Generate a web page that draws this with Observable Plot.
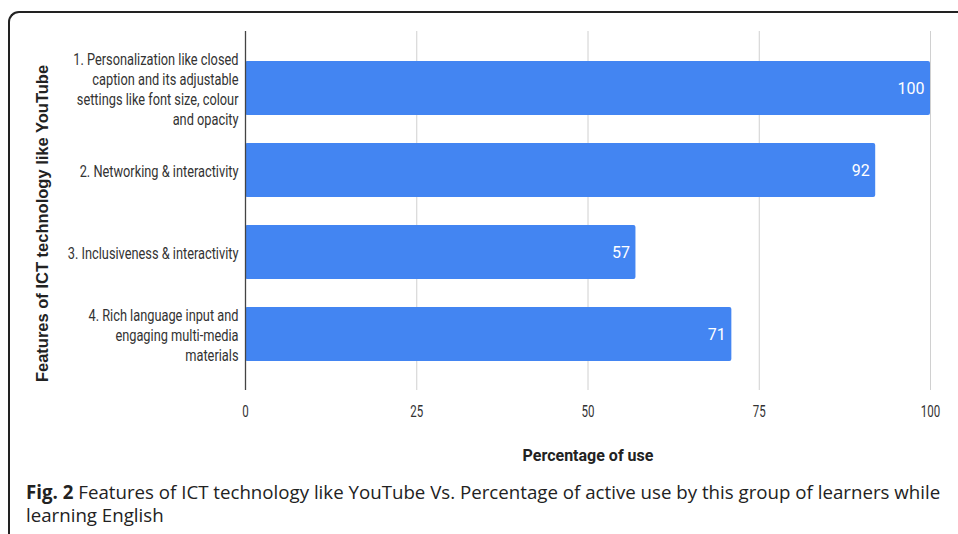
<!DOCTYPE html>
<html>
<head>
<meta charset="utf-8">
<script src="https://cdn.jsdelivr.net/npm/d3@7"></script>
<script src="https://cdn.jsdelivr.net/npm/@observablehq/plot@0.6"></script>
<style>
  html, body { margin: 0; padding: 0; background: #fff; width: 958px; height: 534px; overflow: hidden; }
  #frame { position: absolute; left: 8px; top: 11px; width: 980px; height: 560px;
           border-left: 2px solid #222; border-top: 2px solid #222; border-top-left-radius: 11px; box-sizing: border-box; }
  #chart { position: absolute; left: 0; top: 0; }
  #caption { position: absolute; left: 26px; top: 480px; width: 925px; white-space: nowrap;
             font-family: "Open Sans", sans-serif; font-size: 18.7px; line-height: 23px; color: #222; }
  #caption b { font-weight: 700; }
</style>
</head>
<body>
<div id="frame"></div>
<div id="chart"></div>
<div id="caption"><div><b>Fig. 2</b><span> Features of ICT technology like YouTube Vs. Percentage of active use by this group of learners while</span></div><div><span>learning English</span></div></div>
<script>
const categories = [
  "1. Personalization like closed caption and its adjustable settings like font size, colour and opacity",
  "2. Networking & interactivity",
  "3. Inclusiveness & interactivity",
  "4. Rich language input and engaging multi-media materials"
];
const tickLabels = [
  "1. Personalization like closed\ncaption and its adjustable\nsettings like font size, colour\nand opacity",
  "2. Networking & interactivity",
  "3. Inclusiveness & interactivity",
  "4. Rich language input and\nengaging multi-media\nmaterials"
];
const values = [100, 92, 57, 71];
const xTicks = [0, 25, 50, 75, 100];
const xTitle = "Percentage of use";
const yTitle = "Features of ICT technology like YouTube";

const data = categories.map((c, i) => ({category: c, value: values[i]}));
const labelOf = new Map(categories.map((c, i) => [c, tickLabels[i]]));

const narrow = "Roboto, sans-serif";

const chart = Plot.plot({
  width: 958,
  height: 470,
  marginLeft: 245,
  marginRight: 28,
  marginTop: 31,
  marginBottom: 80,
  style: {background: "transparent", fontFamily: narrow, color: "#333"},
  x: {domain: [0, 100]},
  y: {domain: categories, padding: 0.345},
  marks: [
    Plot.ruleX(xTicks.filter(d => d !== 0), {stroke: "#d0d0d0", strokeWidth: 1}),
    Plot.barX(data, {y: "category", x: "value", fill: "#4385f2", rx: 2}),
    Plot.ruleX([0], {stroke: "#444", strokeWidth: 1.3}),
    Plot.text(data, {y: "category", x: "value", text: d => String(d.value), textAnchor: "end", dx: -6,
      fill: "#fff", fontSize: 16, fontFamily: narrow, ariaLabel: "value-label"}),
    Plot.axisX({ticks: xTicks, tickSize: 0, tickPadding: 15, label: null, fontSize: 16, fontFamily: narrow, fill: "#333"}),
    Plot.axisY({tickSize: 0, tickPadding: 7, label: null, tickFormat: d => labelOf.get(d),
      fontSize: 16, lineHeight: 1.25, fontFamily: narrow, fill: "#333"}),
    Plot.text([xTitle], {frameAnchor: "bottom", dy: 70, fontWeight: "bold", fontSize: 16, fontFamily: narrow, fill: "#222", ariaLabel: "x-title"}),
    Plot.text([yTitle], {frameAnchor: "left", textAnchor: "middle", rotate: -90, dx: -203, dy: 12.5, fontWeight: "bold", fontSize: 16.5,
      fontFamily: "'Liberation Sans', Arial, sans-serif", fill: "#222", style: "letter-spacing:0.4px", ariaLabel: "y-title"})
  ]
});
document.getElementById("chart").appendChild(chart);

// narrow (condensed) look for the chart's texts
function squeeze(selector, s) {
  d3.select(chart).selectAll(selector).each(function () {
    const el = d3.select(this);
    const t = el.attr("transform");
    const x = el.attr("x"), y = el.attr("y");
    if (t && x == null) el.attr("transform", `${t} scale(${s},1)`);
    else {
      const xx = +(x || 0), yy = +(y || 0);
      el.attr("transform", `${t ? t + " " : ""}translate(${xx},${yy}) scale(${s},1) translate(${-xx},${-yy})`);
    }
  });
}
squeeze('g[aria-label="y-axis tick label"] text', 0.8);
squeeze('g[aria-label="x-axis tick label"] text', 0.72);
squeeze('g[aria-label="value-label"] text', 0.78);
squeeze('g[aria-label="x-title"] text', 0.85);
</script>
</body>
</html>
